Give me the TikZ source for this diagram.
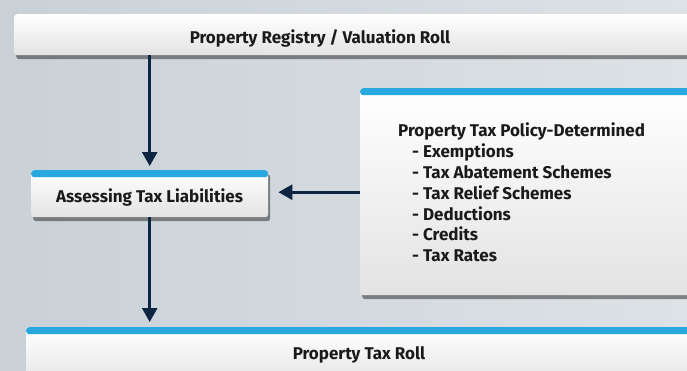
\documentclass[tikz,border=0pt]{standalone}
\usepackage{fontspec}
\setmainfont{Fira Sans}
\usetikzlibrary{shadows,arrows.meta}
\definecolor{bgleft}{HTML}{C9D1D7}
\definecolor{bgright}{HTML}{DDE2E6}
\definecolor{barblue}{HTML}{29A8E0}
\definecolor{navy}{HTML}{0E2443}
\definecolor{txt}{HTML}{1A1A1A}
\begin{document}
\begin{tikzpicture}[x=1pt, y=1pt,
    box/.style={rounded corners=3pt, top color=white, bottom color=gray!22,
      drop shadow={shadow xshift=2pt, shadow yshift=-4pt, opacity=0.55, fill=black!80},
      inner sep=0pt},
    bluebox/.style={box, path picture={\fill[barblue]
      (path picture bounding box.north west) rectangle
      ([yshift=-7pt]path picture bounding box.north east);}},
    lbl/.style={font=\bfseries\fontsize{17}{20}\selectfont, text=txt, inner sep=0pt},
    flow/.style={navy, line width=2.8pt, -{Triangle[width=15pt,length=14pt]}}]
    \useasboundingbox (0,0) rectangle (687,-370);
    \clip (0,0) rectangle (687,-370);
    \shade[left color=bgleft, right color=bgright] (0,0) rectangle (687,-370);

    % boxes
    \node[box, minimum width=700pt, minimum height=41pt, anchor=north west] (reg) at (14,-14) {};
    \node[bluebox, minimum width=237pt, minimum height=47pt, anchor=north west] (assess) at (31,-170) {};
    \node[bluebox, minimum width=340pt, minimum height=207pt, anchor=north west] (policy) at (360,-88) {};
    \node[bluebox, minimum width=680pt, minimum height=60pt, anchor=north west] (roll) at (26,-327) {};

    % texts
    \node[lbl] (regtxt) at (320,-38) {Property Registry / Valuation Roll};
    \node[lbl] (assesstxt) at (149.5,-197) {Assessing Tax Liabilities};
    \node[lbl, anchor=north west, align=left, font=\bfseries\fontsize{17}{20.8}\selectfont] (policytxt) at (398,-123)
      {Property Tax Policy-Determined\\
       \hspace{14pt}- Exemptions\\
       \hspace{14pt}- Tax Abatement Schemes\\
       \hspace{14pt}- Tax Relief Schemes\\
       \hspace{14pt}- Deductions\\
       \hspace{14pt}- Credits\\
       \hspace{14pt}- Tax Rates};
    \node[lbl] (rolltxt) at (359,-355) {Property Tax Roll};

    % arrows
    \draw[flow] (reg.south -| assess.north) -- ([yshift=4pt]assess.north);
    \draw[flow] (assess.south) -- ([yshift=5pt]roll.north -| assess.south);
    \draw[flow] ([yshift=1.5pt]policy.west |- assess) -- ([xshift=10pt,yshift=1.5pt]assess.east);
\end{tikzpicture}
\end{document}
